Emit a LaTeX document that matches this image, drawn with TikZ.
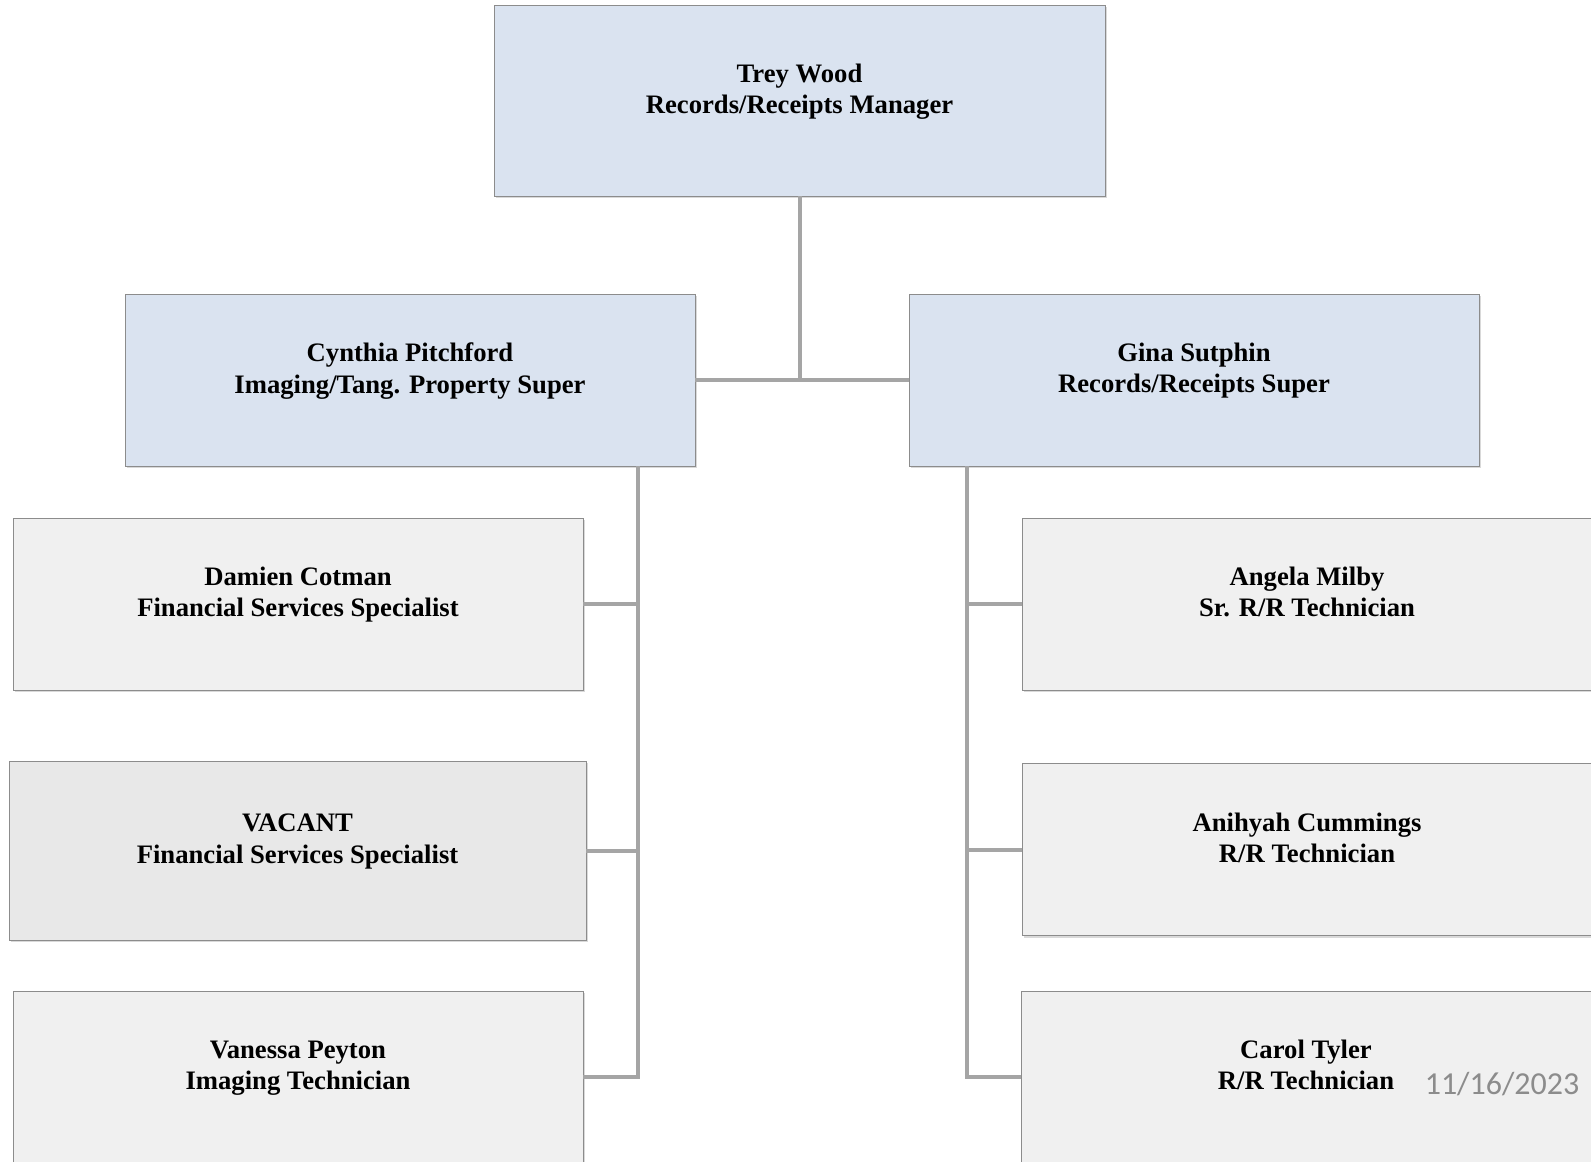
\documentclass[tikz,border=0pt]{standalone}
\usepackage{fontspec}
\setmainfont{Liberation Serif}
\newfontfamily\datefont{Carlito}
\usepackage{tikz}
\usetikzlibrary{positioning,shadows}

\definecolor{supblue}{HTML}{DAE3F0}
\definecolor{staffgray}{HTML}{F0F0F0}
\definecolor{vacgray}{HTML}{E8E8E8}
\definecolor{edgegray}{HTML}{8C8C8C}
\definecolor{linegray}{HTML}{A5A5A5}
\definecolor{dategray}{HTML}{8C8C8C}

\tikzset{
  orgbox/.style={draw=edgegray, line width=0.7pt, fill=staffgray, align=center,
    font=\bfseries\fontsize{20}{23.5}\selectfont, inner sep=0pt,
    minimum width=427.5pt, minimum height=129pt, text depth=18pt,
    drop shadow={shadow xshift=1.2pt, shadow yshift=-1.5pt, opacity=0.3}},
  supbox/.style={orgbox, fill=supblue},
  link/.style={draw=linegray, line width=3pt}
}

\begin{document}
\begin{tikzpicture}[x=0.75pt, y=-0.75pt]
\useasboundingbox (0,0) rectangle (1591,1161);

% Manager
\node[supbox, minimum width=458.25pt, minimum height=143.25pt] (trey) at (799.5,100.5) {Trey Wood\\Records/Receipts Manager};

% Supervisors
\node[supbox] (cynthia) at (410,380) {Cynthia Pitchford\\Imaging/Tang. Property Super};
\node[supbox] (gina) at (1194,380) {Gina Sutphin\\Records/Receipts Super};

% Left staff
\node[orgbox] (damien) at (298,604) {Damien Cotman\\Financial Services Specialist};
\node[orgbox, fill=vacgray, minimum width=432.75pt, minimum height=134.25pt] (vacant) at (297.5,850.5) {VACANT\\Financial Services Specialist};
\node[orgbox] (vanessa) at (298,1077) {Vanessa Peyton\\Imaging Technician};

% Right staff
\node[orgbox] (angela) at (1307,604) {Angela Milby\\Sr. R/R Technician};
\node[orgbox] (anihyah) at (1307,849.5) {Anihyah Cummings\\R/R Technician};
\node[orgbox] (carol) at (1306,1077) {Carol Tyler\\R/R Technician};

% Connecting lines
\coordinate (lspine) at ([xshift=-42.75pt]cynthia.south east);
\coordinate (rspine) at ([xshift=43.5pt]gina.south west);
\draw[link] (trey.south) -- (trey.south |- cynthia.east);
\draw[link] (cynthia.east) -- (gina.west);
\draw[link] (lspine) -- (lspine |- vanessa.east) -- (vanessa.east);
\draw[link] (damien) -- (damien -| lspine);
\draw[link] (vacant) -- (vacant -| lspine);
\draw[link] (rspine) -- (rspine |- carol.west) -- (carol.west);
\draw[link] (angela) -- (angela -| rspine);
\draw[link] (anihyah) -- (anihyah -| rspine);

% Date
\node[font=\datefont\fontsize{24}{28}\selectfont, text=dategray] (date) at (1502,1084) {11/16/2023};

\end{tikzpicture}
\end{document}
